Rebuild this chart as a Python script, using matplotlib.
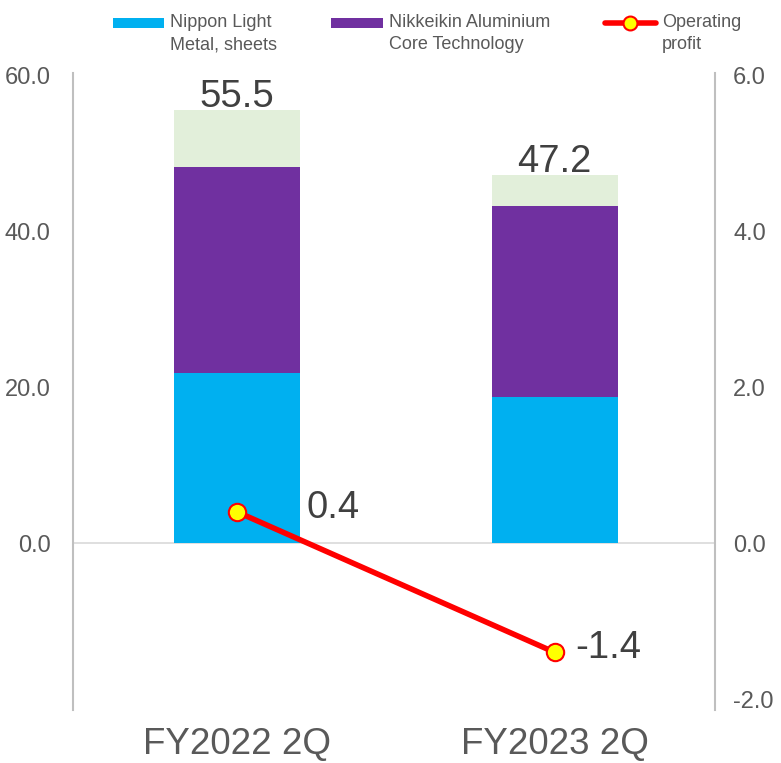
import matplotlib
matplotlib.use("Agg")
import matplotlib.pyplot as plt
from matplotlib.patches import Rectangle
from matplotlib.lines import Line2D

plt.rcParams['font.family'] = ['Liberation Sans', 'DejaVu Sans']

categories = ["FY2022 2Q", "FY2023 2Q"]
nippon_sheets = [21.8, 18.7]
nikkeikin = [26.5, 24.6]
other = [7.2, 3.9]
totals = [55.5, 47.2]
operating_profit = [0.4, -1.4]
legend_labels = ["Nippon Light\nMetal, sheets", "Nikkeikin Aluminium\nCore Technology", "Operating\nprofit"]

c_blue = "#00B0F0"
c_purple = "#7030A0"
c_green = "#E2EFDA"
c_text = "#595959"
c_label = "#404040"
c_spine = "#BFBFBF"

W, H = 781, 763
fig = plt.figure(figsize=(W / 100, H / 100), dpi=100)
ax = fig.add_axes([73 / W, 1 - 710 / H, (715 - 73) / W, (710 - 73) / H])
ax2 = ax.twinx()

x = list(range(len(categories)))
w = 0.397
ax.bar(x, nippon_sheets, w, color=c_blue, zorder=2)
ax.bar(x, nikkeikin, w, bottom=nippon_sheets, color=c_purple, zorder=2)
bottom2 = [a + b for a, b in zip(nippon_sheets, nikkeikin)]
ax.bar(x, other, w, bottom=bottom2, color=c_green, zorder=2)
for xi, t in zip(x, totals):
    ax.annotate(f"{t:.1f}", (xi, t), xytext=(0, 2.5), textcoords="offset points",
                ha="center", va="baseline", fontsize=27.5, color=c_label)

ax.axhline(0, color="#D9D9D9", lw=1.2, zorder=1)
ax.set_xlim(-0.517, 1.505)
ax.set_ylim(-21.4, 60.3)
ax.set_yticks([0, 20, 40, 60])
ax.set_yticklabels([f"{v:.1f}" for v in [0, 20, 40, 60]])
ax.set_xticks(x)
ax.set_xticklabels(categories)

ax2.set_ylim(-2.14, 6.03)
ax2.set_yticks([-2, 0, 2, 4, 6])
ax2.set_yticklabels([f"{v:.1f}" for v in [-2, 0, 2, 4, 6]])

ax2.plot(x, operating_profit, color="#FF0000", lw=4, marker="o", markersize=12.5,
         markerfacecolor="#FFFF00", markeredgecolor="#FF0000", markeredgewidth=1.5, zorder=5)
label_offsets = [(50, 3), (15, 3)]
for xi, v, off in zip(x, operating_profit, label_offsets):
    ax2.annotate(f"{v:.1f}", (xi, v), xytext=off, textcoords="offset points",
                 ha="left", va="center", fontsize=27.5, color=c_label)

for a in (ax, ax2):
    for s in a.spines.values():
        s.set_visible(False)
    a.tick_params(length=0, labelsize=17, labelcolor=c_text)
ax.tick_params(axis='x', labelsize=26.5, pad=12)
ax.tick_params(axis='y', pad=16)
ax2.tick_params(axis='y', pad=13)
ax.spines['left'].set_visible(True)
ax.spines['left'].set_color(c_spine)
ax.spines['left'].set_linewidth(1.5)
ax2.spines['right'].set_visible(True)
ax2.spines['right'].set_color(c_spine)
ax2.spines['right'].set_linewidth(1.5)

# legend drawn at the top (handles aligned with first text line)
def fx(px):
    return px / W

def fy(py):
    return 1 - py / H

fig.add_artist(Rectangle((fx(113), fy(28)), fx(164) - fx(113), fy(18) - fy(28),
                         transform=fig.transFigure, color=c_blue, lw=0))
fig.add_artist(Rectangle((fx(331), fy(28)), fx(383) - fx(331), fy(18) - fy(28),
                         transform=fig.transFigure, color=c_purple, lw=0))
fig.add_artist(Line2D([fx(605), fx(656)], [fy(23), fy(23)], transform=fig.transFigure,
                      color="#FF0000", lw=4, solid_capstyle="round"))
fig.add_artist(Line2D([fx(630)], [fy(23)], transform=fig.transFigure, marker="o",
                      markersize=10, markerfacecolor="#FFFF00", markeredgecolor="#FF0000",
                      markeredgewidth=1.5, linestyle="none"))
for px, lab in zip([170, 389, 662], legend_labels):
    fig.text(fx(px), fy(14), lab, ha="left", va="top", fontsize=13, color=c_text,
             linespacing=1.4)

fig.savefig("out.png", dpi=100)
